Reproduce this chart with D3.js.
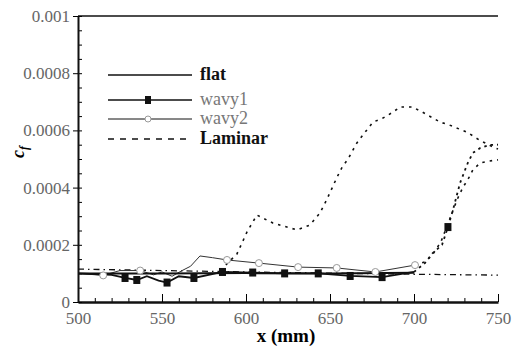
<!DOCTYPE html>
<meta charset="utf-8">
<style>
  body { margin: 0; background: #fff; }
  text { font-family: "Liberation Serif", "Times New Roman", serif; }
</style>
<body>
<script src="https://cdn.jsdelivr.net/npm/d3@7"></script>
<script>
// chart values
var xTicks = [500, 550, 600, 650, 700, 750];
var yTicks = [0, 0.0002, 0.0004, 0.0006, 0.0008, 0.001];

var flatX = [500, 550, 600, 650, 700];
var flatY = [0.000100, 0.000100, 0.000101, 0.000100, 0.000102];

var wavy1X = [500, 520, 528, 535, 541, 548, 553, 560, 569, 586, 604, 623, 643, 662, 681, 700];
var wavy1Y = [0.000100, 0.000095, 0.000084, 0.000077, 0.000090, 0.000075, 0.000068, 0.000090, 0.000084,
              0.000105, 0.000103, 0.000100, 0.000100, 0.000091, 0.000087, 0.000105];
var wavy1Marks = [2, 3, 6, 8, 9, 10, 11, 12, 13, 14];
// wavy1 transition (dotted)
var wavy1TrX = [700, 706.5, 711, 716.7, 720.2, 723.2, 727.4, 732, 735, 739.3, 745, 750];
var wavy1TrY = [0.000105, 0.000136, 0.000170, 0.000200, 0.000262, 0.000322, 0.000416, 0.000486,
                0.000521, 0.000538, 0.000549, 0.000550];
var wavy1TrMarks = [4];

var wavy2X = [500, 515, 525, 537, 545, 550, 556, 562, 567, 572.6, 580, 588.7, 607.7, 631, 654, 677, 700.6];
var wavy2Y = [0.000100, 0.000093, 0.000110, 0.000110, 0.000095, 0.000105, 0.000090, 0.000110, 0.000125,
              0.000161, 0.000155, 0.000147, 0.000136, 0.000122, 0.000119, 0.000105, 0.000129];
var wavy2Marks = [1, 3, 11, 12, 13, 14, 15, 16];
// wavy2 transition (dotted)
var wavy2TrX = [700.6, 706.5, 711, 716, 720, 725.6, 729.2, 732, 735, 739.3, 745, 750];
var wavy2TrY = [0.000129, 0.000140, 0.000165, 0.000210, 0.000270, 0.000357, 0.000402, 0.000427,
                0.000462, 0.000486, 0.000493, 0.000497];

// early transition hump (dotted)
var humpX = [588, 594.6, 597.6, 600.6, 606.5, 616, 630.4, 638, 644, 648, 654, 657, 661, 666, 669.6,
             675.6, 681.5, 687.5, 691.7, 699, 705, 715.5, 721, 731.5, 739, 747, 750];
var humpY = [0.000130, 0.000168, 0.000206, 0.000245, 0.000304, 0.000276, 0.000252, 0.000269, 0.000311,
             0.000357, 0.000434, 0.000469, 0.000503, 0.000556, 0.000584, 0.000629, 0.000643, 0.000664,
             0.000682, 0.000682, 0.000664, 0.000629, 0.000619, 0.000594, 0.000566, 0.000542, 0.000535];

var laminarX = [500, 550, 600, 650, 700, 750];
var laminarY = [0.000115, 0.000110, 0.000105, 0.000101, 0.000097, 0.000094];

var legendNames = ["flat", "wavy1", "wavy2", "Laminar"];

var width = 513, height = 347;
var x = d3.scaleLinear().domain([500, 750]).range([78, 498]),
    y = d3.scaleLinear().domain([0, 0.001]).range([302, 16]);

var svg = d3.select("body").append("svg")
  .attr("width", width)
  .attr("height", height);

// top frame line
svg.append("line")
  .attr("x1", x(500)).attr("x2", x(750))
  .attr("y1", y(0.001)).attr("y2", y(0.001))
  .attr("stroke", "#111").attr("stroke-width", 1.5);

// x axis: minor ticks, then major ticks with labels
svg.append("g")
  .attr("transform", "translate(0," + y(0) + ")")
  .call(d3.axisBottom(x).tickValues(d3.range(500, 751, 10)).tickSize(-4).tickFormat(""))
  .call(function(g){ g.select(".domain").remove(); });
var xAxis = svg.append("g")
  .attr("transform", "translate(0," + y(0) + ")")
  .call(d3.axisBottom(x).tickValues(xTicks).tickSizeInner(-8).tickSizeOuter(0).tickPadding(6));
xAxis.select(".domain").attr("stroke-width", 2.5).attr("stroke", "#111");
xAxis.selectAll("text").attr("font-size", 17).attr("fill", "#666").attr("dy", "0.95em");

// y axis
svg.append("g")
  .attr("transform", "translate(" + x(500) + ",0)")
  .call(d3.axisLeft(y).tickValues(d3.range(0, 0.00100001, 0.00005)).tickSize(-4).tickFormat(""))
  .call(function(g){ g.select(".domain").remove(); });
var yAxis = svg.append("g")
  .attr("transform", "translate(" + x(500) + ",0)")
  .call(d3.axisLeft(y).tickValues(yTicks).tickSizeInner(5).tickSizeOuter(0).tickPadding(3)
    .tickFormat(function(d){ return d === 0 ? "0" : String(+d.toFixed(4)); }));
yAxis.select(".domain").attr("stroke-width", 2).attr("stroke", "#111");
yAxis.selectAll("text").attr("font-size", 17).attr("fill", "#666");

// axis titles
svg.append("text")
  .attr("transform", "translate(24,152) rotate(-90)")
  .attr("text-anchor", "middle")
  .attr("font-size", 18).attr("font-style", "italic").attr("font-weight", "bold")
  .text("c")
  .append("tspan").attr("font-size", 12).attr("dy", 4).text("f");
svg.append("text")
  .attr("x", 286).attr("y", 342)
  .attr("text-anchor", "middle")
  .attr("font-size", 19).attr("font-weight", "bold")
  .text("x (mm)");

function pts(xs, ys){ return xs.map(function(v, i){ return [x(v), y(ys[i])]; }); }
var line = d3.line();

function drawLine(xs, ys, style){
  svg.append("path")
    .attr("d", line(pts(xs, ys)))
    .attr("fill", "none")
    .attr("stroke", style.color || "#111")
    .attr("stroke-width", style.width)
    .attr("stroke-dasharray", style.dash || null);
}
function drawSquares(xs, ys, idx){
  svg.selectAll(null).data(idx).enter().append("rect")
    .attr("x", function(i){ return x(xs[i]) - 3.5; })
    .attr("y", function(i){ return y(ys[i]) - 4; })
    .attr("width", 7).attr("height", 8)
    .attr("fill", "#111");
}
function drawCircles(xs, ys, idx){
  svg.selectAll(null).data(idx).enter().append("circle")
    .attr("cx", function(i){ return x(xs[i]); })
    .attr("cy", function(i){ return y(ys[i]); })
    .attr("r", 3.5)
    .attr("fill", "#fff").attr("stroke", "#999").attr("stroke-width", 1);
}

drawLine(laminarX, laminarY, {width: 1.3, dash: "6,4,1.5,4"});
drawLine(humpX, humpY, {width: 1.6, dash: "2.5,5"});
drawLine(wavy2TrX, wavy2TrY, {width: 1.6, dash: "2.5,5"});
drawLine(wavy1TrX, wavy1TrY, {width: 1.8, dash: "2.5,4"});
drawLine(wavy2X, wavy2Y, {width: 1, color: "#333"});
drawLine(flatX, flatY, {width: 2});
drawLine(wavy1X, wavy1Y, {width: 1.8});
drawCircles(wavy2X, wavy2Y, wavy2Marks);
drawSquares(wavy1X, wavy1Y, wavy1Marks);
drawSquares(wavy1TrX, wavy1TrY, wavy1TrMarks);

// legend
var legendY = [75, 100, 119, 139];
var lg = svg.append("g");
legendNames.forEach(function(name, i){
  var ly = legendY[i];
  lg.append("line")
    .attr("x1", 108).attr("x2", 192).attr("y1", ly).attr("y2", ly)
    .attr("stroke", "#111").attr("stroke-width", i === 2 ? 1 : 1.3)
    .attr("stroke-dasharray", i === 3 ? "6,6" : null);
  if (i === 1) lg.append("rect").attr("x", 145).attr("y", ly - 4).attr("width", 6).attr("height", 8).attr("fill", "#111");
  if (i === 2) lg.append("circle").attr("cx", 148).attr("cy", ly).attr("r", 3).attr("fill", "#fff").attr("stroke", "#999");
  var bold = (i === 0 || i === 3);
  lg.append("text")
    .attr("x", 200).attr("y", ly + 5)
    .attr("font-size", 18)
    .attr("font-weight", bold ? "bold" : "normal")
    .attr("fill", bold ? "#111" : "#777")
    .text(name);
});
</script>
</body>
